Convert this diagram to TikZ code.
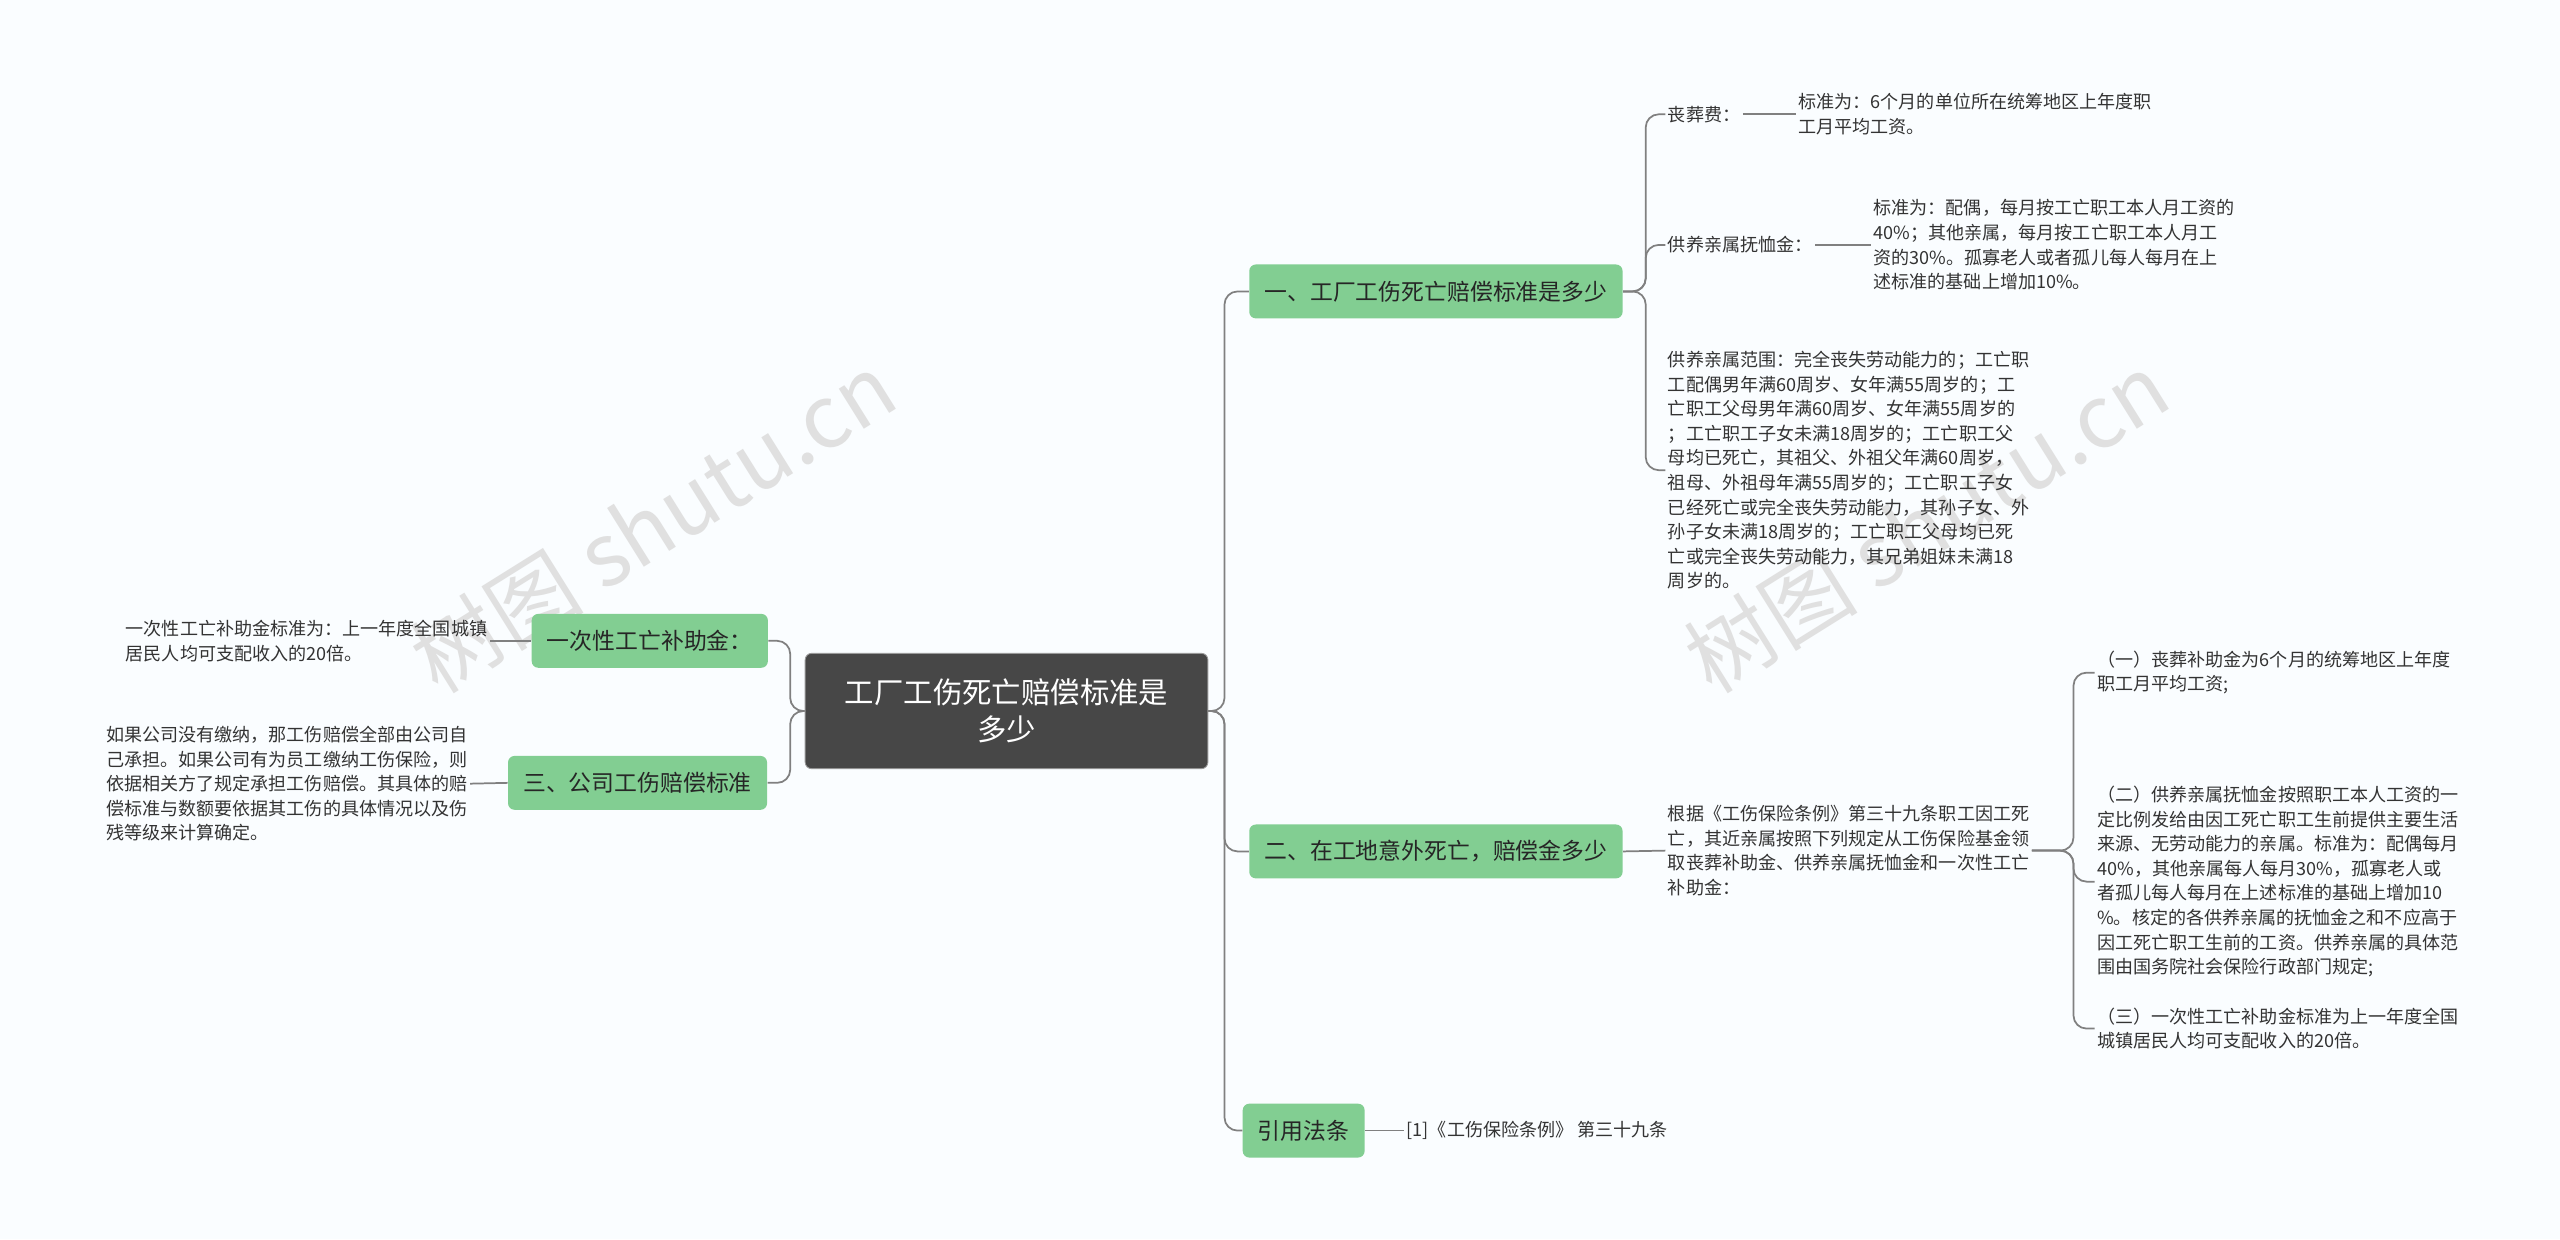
\documentclass[tikz,border=0pt]{standalone}
\usepackage{fontspec}
\setmainfont{Noto Sans CJK SC}
\definecolor{gfill}{RGB}{130,206,146}
\begin{document}
\begin{tikzpicture}[x=0.75pt,y=-0.75pt,
  txt/.style={font=\fontsize{8.3}{11.3}\selectfont,text=black!80,align=left,anchor=west,inner sep=1pt},
  gbox/.style={fill=gfill,draw=none,rounded corners=3pt,font=\fontsize{10.5}{13}\selectfont,text=black!85,inner xsep=7pt,minimum height=24.75pt},
  conn/.style={draw=black!50,line width=0.8pt,rounded corners=6pt}]
\fill[cyan!2] (0,0) rectangle (1568,759);
\useasboundingbox (0,0) rectangle (1568,759);
\node[font=\fontsize{40}{40}\selectfont,text=black!12,rotate=32] at (400,320) {树图 shutu.cn};
\node[font=\fontsize{40}{40}\selectfont,text=black!12,rotate=32] at (1180,320) {树图 shutu.cn};
\node[fill=black!72,draw=black!40,rounded corners=3pt,text=white,align=center,font=\fontsize{13.5}{17}\selectfont,minimum width=185pt,minimum height=53pt] (root) at (616.5,435.5) {工厂工伤死亡赔偿标准是\\多少};
\node[gbox] (l1) at (398,392.5) {一次性工亡补助金：};
\node[gbox] (l2) at (390.5,479.5) {三、公司工伤赔偿标准};
\node[txt,anchor=east] (lt1) at (300,392.5) {一次性工亡补助金标准为：上一年度全国城镇\\居民人均可支配收入的20倍。};
\node[txt,anchor=east] (lt2) at (288,480) {如果公司没有缴纳，那工伤赔偿全部由公司自\\己承担。如果公司有为员工缴纳工伤保险，则\\依据相关方了规定承担工伤赔偿。其具体的赔\\偿标准与数额要依据其工伤的具体情况以及伤\\残等级来计算确定。};
\node[gbox] (r1) at (879.5,178.5) {一、工厂工伤死亡赔偿标准是多少};
\node[gbox] (r2) at (879.5,521.5) {二、在工地意外死亡，赔偿金多少};
\node[gbox] (r3) at (798.5,692.5) {引用法条};
\draw[conn] (root.west) -- (484,435.5) |- (l1.east);
\draw[conn] (root.west) -- (484,435.5) |- (l2.east);
\draw[conn] (l1.west) -- (lt1.east);
\draw[conn] (l2.west) -- (lt2.east);
\foreach \n in {r1,r2,r3} \draw[conn] (root.east) -- (750,435.5) |- (\n.west);
\node[txt] (a1) at (1020,70) {丧葬费：};
\node[txt] (a1t) at (1100,70) {标准为：6个月的单位所在统筹地区上年度职\\工月平均工资。};
\node[txt] (a2) at (1020,150) {供养亲属抚恤金：};
\node[txt] (a2t) at (1146,150) {标准为：配偶，每月按工亡职工本人月工资的\\40\%；其他亲属，每月按工亡职工本人月工\\资的30\%。孤寡老人或者孤儿每人每月在上\\述标准的基础上增加10\%。};
\node[txt] (a3) at (1020,288) {供养亲属范围：完全丧失劳动能力的；工亡职\\工配偶男年满60周岁、女年满55周岁的；工\\亡职工父母男年满60周岁、女年满55周岁的\\；工亡职工子女未满18周岁的；工亡职工父\\母均已死亡，其祖父、外祖父年满60周岁，\\祖母、外祖母年满55周岁的；工亡职工子女\\已经死亡或完全丧失劳动能力，其孙子女、外\\孙子女未满18周岁的；工亡职工父母均已死\\亡或完全丧失劳动能力，其兄弟姐妹未满18\\周岁的。};
\foreach \n in {a1,a2,a3} \draw[conn] (r1.east) -- (1008,178.5) |- (\n.west);
\draw[conn] (a1.east) -- (a1t.west);
\draw[conn] (a2.east) -- (a2t.west);
\node[txt] (b) at (1020,521) {根据《工伤保险条例》第三十九条职工因工死\\亡，其近亲属按照下列规定从工伤保险基金领\\取丧葬补助金、供养亲属抚恤金和一次性工亡\\补助金：};
\draw[conn] (r2.east) -- (b.west);
\node[txt] (b1) at (1283,412) {（一）丧葬补助金为6个月的统筹地区上年度\\职工月平均工资;};
\node[txt] (b2) at (1283,540) {（二）供养亲属抚恤金按照职工本人工资的一\\定比例发给由因工死亡职工生前提供主要生活\\来源、无劳动能力的亲属。标准为：配偶每月\\40\%，其他亲属每人每月30\%，孤寡老人或\\者孤儿每人每月在上述标准的基础上增加10\\\%。核定的各供养亲属的抚恤金之和不应高于\\因工死亡职工生前的工资。供养亲属的具体范\\围由国务院社会保险行政部门规定;};
\node[txt] (b3) at (1283,630) {（三）一次性工亡补助金标准为上一年度全国\\城镇居民人均可支配收入的20倍。};
\foreach \n in {b1,b2,b3} \draw[conn] (b.east) -- (1270,521) |- (\n.west);
\node[txt] (c) at (860,692.5) {[1]《工伤保险条例》 第三十九条};
\draw[conn] (r3.east) -- (c.west);
\end{tikzpicture}
\end{document}
